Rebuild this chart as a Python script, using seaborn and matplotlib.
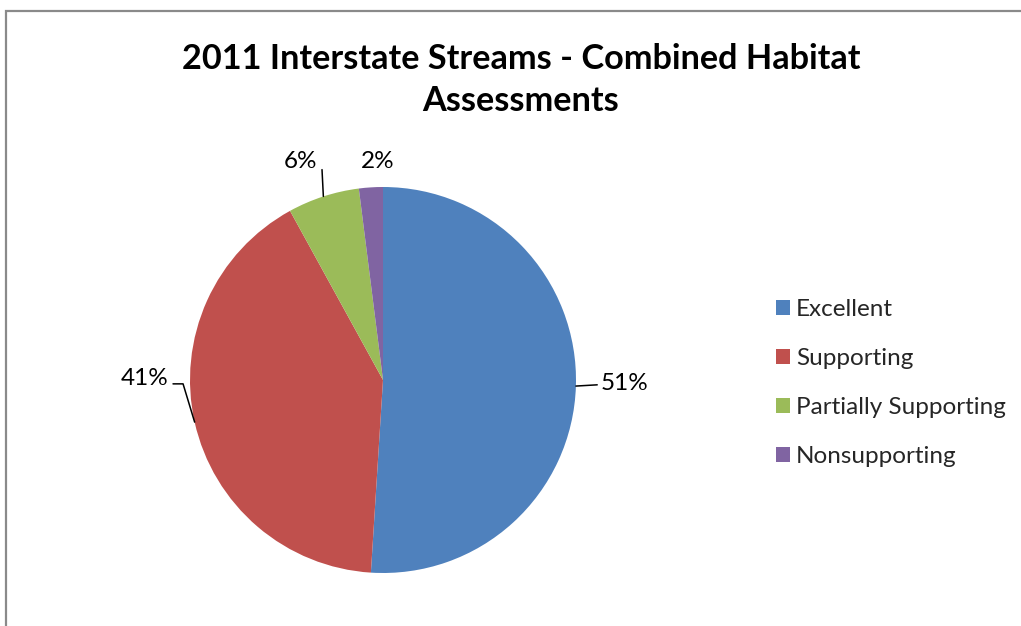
import numpy as np
import seaborn as sns
import matplotlib
matplotlib.use("Agg")
from matplotlib import pyplot as plt
from matplotlib.patches import Patch, Rectangle

# data
categories = ["Excellent", "Supporting", "Partially Supporting", "Nonsupporting"]
shares = [51, 41, 6, 2]
colors = ["#4F81BD", "#C0504D", "#9BBB59", "#8064A2"]
title = "2011 Interstate Streams - Combined Habitat\nAssessments"

sns.set_theme(style="white")
plt.rcParams['font.family'] = ['Lato', 'DejaVu Sans']

W, H = 1021, 626
fig = plt.figure(figsize=(W / 100, H / 100), dpi=100)
fig.patch.set_facecolor("white")

# chart border (only top/left visible in the crop)
fig.add_artist(Rectangle((6 / W, -0.5), 2.0, 1.5 - 11 / H, transform=fig.transFigure,
                         fill=False, ec="#8a8a8a", lw=1.6, clip_on=False))

fig.text(521 / W, 1 - 80 / H, title, ha="center", va="center", fontsize=24.7,
         fontweight="bold", linespacing=1.4, color="black")

# pie axes, centre (383,380), radius 193 px
cx, cy, r = 383, H - 380, 193
ax = fig.add_axes([(cx - r) / W, (cy - r) / H, 2 * r / W, 2 * r / H])
pal = sns.color_palette(colors)
wedges, _ = ax.pie(shares, colors=pal, startangle=90, counterclock=False,
                   radius=1, wedgeprops=dict(linewidth=0))
ax.set_xlim(-1, 1)
ax.set_ylim(-1, 1)
ax.set_axis_off()

# label placement (data units, radius = 1)
lab_pos = [(1.13, -0.02, "left"), (-1.11, 0.01, "right"), (-0.425, 1.13, "center"), (-0.03, 1.13, "center")]
leaders = [[(1.11, -0.025)], [(-1.036, -0.02), (-1.088, -0.02)], [(-0.316, 1.09)], []]
for w, s, (lx, ly, ha), pts in zip(wedges, shares, lab_pos, leaders):
    mid = np.deg2rad((w.theta1 + w.theta2) / 2)
    ex, ey = np.cos(mid), np.sin(mid)
    if pts:
        xs = [ex] + [p[0] for p in pts]
        ys = [ey] + [p[1] for p in pts]
        ax.plot(xs, ys, color="black", lw=1.1, clip_on=False)
    ax.text(lx, ly, f"{s}%", ha=ha, va="center", fontsize=17.5, color="black", clip_on=False)

handles = [Patch(facecolor=c, edgecolor="none") for c in pal]
fig.legend(handles, categories, loc="center left", bbox_to_anchor=(766 / W, 1 - 383 / H),
           frameon=False, fontsize=17.5, handlelength=0.58, handleheight=0.58,
           handletextpad=0.25, labelspacing=1.15, borderaxespad=0)

fig.savefig("out.png", dpi=100)
